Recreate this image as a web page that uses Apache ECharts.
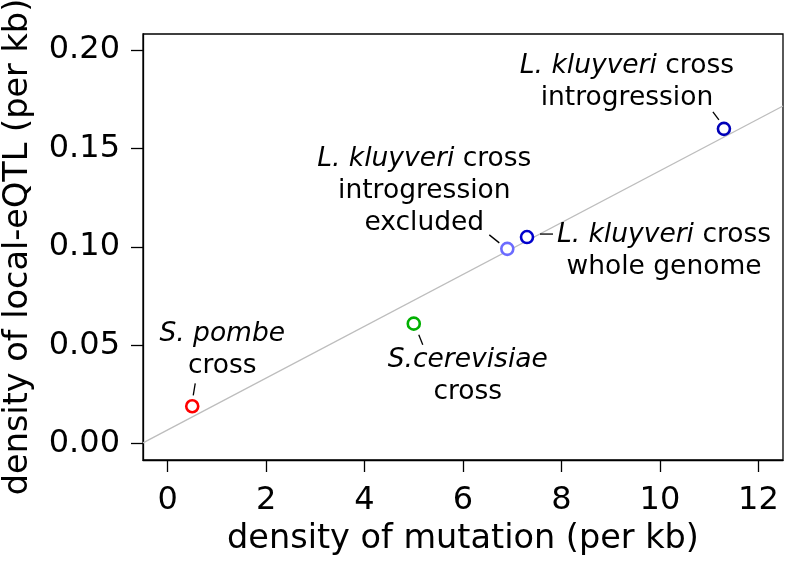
<!DOCTYPE html>
<html lang="en">
<head>
    <meta charset="UTF-8">
    <title>eQTL vs mutation density</title>
    <script src="https://cdn.jsdelivr.net/npm/echarts@6/dist/echarts.min.js"></script>
    <style>
        html, body { margin: 0; padding: 0; background: #fff; }
        #main { width: 785px; height: 561px; }
    </style>
</head>
<body>
    <div id="main"></div>
    <script type="text/javascript">
    // point data
    var crossNames = ['S. pombe', 'S.cerevisiae', 'L. kluyveri excluded', 'L. kluyveri whole', 'L. kluyveri introgression'];
    var mutDensity = [0.5, 5.0, 6.9, 7.3, 11.3];
    var eqtlDensity = [0.019, 0.061, 0.099, 0.105, 0.160];
    var labelTexts = [
        '{i|S. pombe}\ncross',
        '{i|S.cerevisiae}\ncross',
        '{i|L. kluyveri} cross\nintrogression\nexcluded',
        '{i|L. kluyveri} cross\nwhole genome',
        '{i|L. kluyveri} cross\nintrogression'
    ];
    // fitted line, ends at the x-axis limits
    var fitX = [-0.5, 12.5];
    var fitY = [0.0004, 0.1716];
    var xTicks = [0, 2, 4, 6, 8, 10, 12];
    var yTicks = [0, 0.05, 0.1, 0.15, 0.2];

    var colors = ['#ff0000', '#00b000', '#6b6bff', '#0000cc', '#0000b8'];
    // label centre offsets from each point (px)
    var labelOffsets = [[30, -56], [54, 52], [-83, -58], [137, 14], [-97, -47]];
    // leader line ends, px from each point
    var leaderOffsets = [[[3, -23], [1, -11]], [[5, 11], [9, 21]], [[-18, -14], [-8, -6]], [[13, -3], [26, -3]], [[-11, -17], [-5, -9]]];

    var font = 'DejaVu Sans';
    var chart = echarts.init(document.getElementById('main'));

    var pts = [];
    for (var i = 0; i < mutDensity.length; i++) {
        pts.push({
            name: crossNames[i],
            value: [mutDensity[i], eqtlDensity[i]],
            itemStyle: { borderColor: colors[i] },
            label: { formatter: labelTexts[i] }
        });
    }

    var option = {
        animation: false,
        backgroundColor: '#fff',
        grid: {
            left: 143, top: 34, right: 2, bottom: 101,
            outerBoundsMode: 'none',
            containLabel: false,
            show: true, borderColor: '#000', borderWidth: 1.3, backgroundColor: 'transparent'
        },
        xAxis: {
            type: 'value',
            min: -0.5, max: 12.5,
            name: 'density of mutation (per kb)',
            nameLocation: 'middle',
            nameGap: 62,
            nameTextStyle: { fontFamily: font, fontSize: 33.5, color: '#000' },
            axisLine: { onZero: false, lineStyle: { color: '#000', width: 1.3 } },
            axisTick: { length: 12, lineStyle: { color: '#000', width: 1.3 }, customValues: xTicks },
            axisLabel: {
                fontFamily: font, fontSize: 32, color: '#000', margin: 25,
                customValues: xTicks
            },
            splitLine: { show: false }
        },
        yAxis: {
            type: 'value',
            min: -0.0083, max: 0.2082,
            name: 'density of local-eQTL (per kb)',
            nameLocation: 'middle',
            nameGap: 108,
            nameTextStyle: { fontFamily: font, fontSize: 33.5, color: '#000' },
            axisLine: { onZero: false, lineStyle: { color: '#000', width: 1.3 } },
            axisTick: { length: 12, lineStyle: { color: '#000', width: 1.3 }, customValues: yTicks },
            axisLabel: {
                fontFamily: font, fontSize: 32, color: '#000', margin: 23,
                customValues: yTicks,
                formatter: function (v) { return v.toFixed(2); }
            },
            splitLine: { show: false }
        },
        series: [
            {
                type: 'line',
                data: fitX.map(function (x, k) { return [x, fitY[k]]; }),
                showSymbol: false,
                silent: true,
                lineStyle: { color: '#bdbdbd', width: 1.3 },
                z: 1
            },
            {
                type: 'scatter',
                data: pts,
                symbol: 'circle',
                symbolSize: 12,
                itemStyle: { color: '#fff', borderWidth: 2.6, opacity: 1 },
                z: 3,
                label: {
                    show: true,
                    position: 'inside',
                    align: 'center',
                    verticalAlign: 'middle',
                    fontFamily: font,
                    fontSize: 26.5,
                    lineHeight: 32,
                    color: '#000',
                    opacity: 1,
                    rich: {
                        i: { fontFamily: font, fontSize: 26.5, fontStyle: 'italic', lineHeight: 32, color: '#000' }
                    }
                },
                labelLayout: function (params) {
                    var o = labelOffsets[params.dataIndex];
                    return { dx: o[0], dy: o[1] };
                }
            }
        ]
    };

    chart.setOption(option);

    // short leader lines next to each point
    var leaders = [];
    for (var j = 0; j < mutDensity.length; j++) {
        var p = chart.convertToPixel({ seriesIndex: 1 }, [mutDensity[j], eqtlDensity[j]]);
        var a = leaderOffsets[j][0], b = leaderOffsets[j][1];
        leaders.push({
            type: 'line',
            silent: true,
            z: 5,
            shape: { x1: p[0] + a[0], y1: p[1] + a[1], x2: p[0] + b[0], y2: p[1] + b[1] },
            style: { stroke: '#000', lineWidth: 1.3 }
        });
    }
    chart.setOption({ graphic: leaders });
    </script>
</body>
</html>
